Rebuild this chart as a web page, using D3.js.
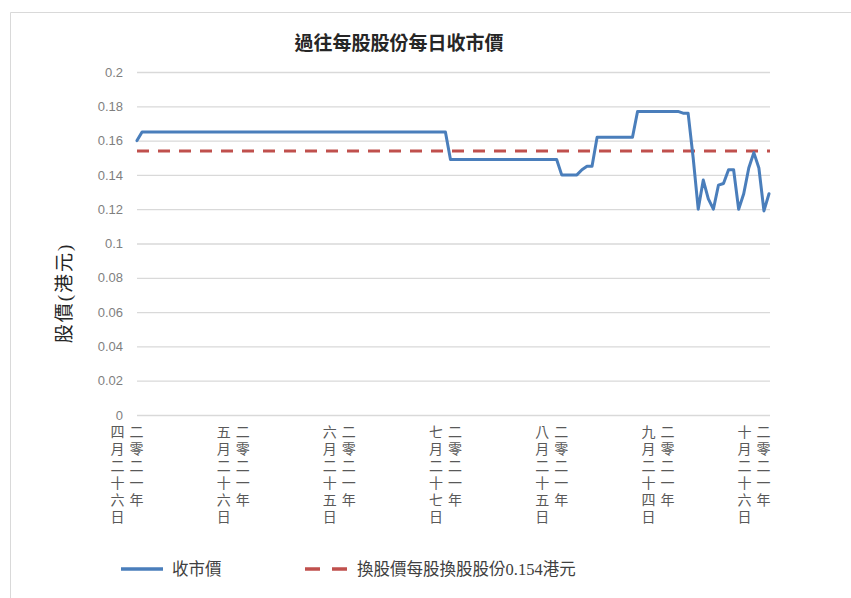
<!DOCTYPE html>
<html>
<head>
<meta charset="utf-8">
<script src="https://cdn.jsdelivr.net/npm/d3@7"></script>
<style>
  html, body { margin: 0; padding: 0; background: #fff; }
  svg { display: block; }
</style>
</head>
<body>
<svg id="chart" width="851" height="598"></svg>
<script>
// Daily closing price per share (HK$), one value per trading day
const closePrices = [
  0.160, 0.165, 0.165, 0.165, 0.165, 0.165, 0.165, 0.165, 0.165, 0.165,
  0.165, 0.165, 0.165, 0.165, 0.165, 0.165, 0.165, 0.165, 0.165, 0.165,
  0.165, 0.165, 0.165, 0.165, 0.165, 0.165, 0.165, 0.165, 0.165, 0.165,
  0.165, 0.165, 0.165, 0.165, 0.165, 0.165, 0.165, 0.165, 0.165, 0.165,
  0.165, 0.165, 0.165, 0.165, 0.165, 0.165, 0.165, 0.165, 0.165, 0.165,
  0.165, 0.165, 0.165, 0.165, 0.165, 0.165, 0.165, 0.165, 0.165, 0.165,
  0.165, 0.165, 0.149, 0.149, 0.149, 0.149, 0.149, 0.149, 0.149, 0.149,
  0.149, 0.149, 0.149, 0.149, 0.149, 0.149, 0.149, 0.149, 0.149, 0.149,
  0.149, 0.149, 0.149, 0.149, 0.140, 0.140, 0.140, 0.140, 0.143, 0.145,
  0.145, 0.162, 0.162, 0.162, 0.162, 0.162, 0.162, 0.162, 0.162, 0.177,
  0.177, 0.177, 0.177, 0.177, 0.177, 0.177, 0.177, 0.177, 0.176, 0.176,
  0.150, 0.120, 0.137, 0.126, 0.120, 0.134, 0.135, 0.143, 0.143, 0.120,
  0.129, 0.144, 0.153, 0.144, 0.119, 0.129
];

// Conversion price per conversion share (HK$)
const conversionPrice = 0.154;

// Trading-day positions that carry a date label, and their labels
const xTickIndex = [0, 21, 42, 63, 84, 105, 124];
const xTickYear = ["二零二一年", "二零二一年", "二零二一年", "二零二一年", "二零二一年", "二零二一年", "二零二一年"];
const xTickDate = ["四月二十六日", "五月二十六日", "六月二十五日", "七月二十七日", "八月二十五日", "九月二十四日", "十月二十六日"];

const yTicks = [0, 0.02, 0.04, 0.06, 0.08, 0.1, 0.12, 0.14, 0.16, 0.18, 0.2];

const chartTitle = "過往每股股份每日收市價";
const yTitle = "股價(港元)";
const seriesNames = ["收市價", "換股價每股換股股份0.154港元"];

const svg = d3.select("#chart");
const cjkSans = "'Noto Sans CJK TC', 'Noto Sans CJK SC', sans-serif";
const serifMix = "'Liberation Serif', 'Noto Sans CJK TC', serif";

// chart frame
svg.append("path")
  .attr("d", "M10.5,598 V12.5 H851")
  .attr("fill", "none")
  .attr("stroke", "#d9d9d9")
  .attr("stroke-width", 1);

const plot = { left: 137, right: 769, top: 72, bottom: 415 };

const x = d3.scaleLinear()
  .domain([0, closePrices.length - 1])
  .range([plot.left, plot.right]);

const y = d3.scaleLinear()
  .domain([0, 0.2])
  .range([plot.bottom, plot.top]);

// y axis with horizontal gridlines
const yAxis = d3.axisLeft(y)
  .tickValues(yTicks)
  .tickFormat(d3.format("~f"))
  .tickSize(-(plot.right + 1 - plot.left))
  .tickPadding(14);

const yG = svg.append("g")
  .attr("transform", `translate(${plot.left},0)`)
  .call(yAxis);
yG.select(".domain").remove();
yG.selectAll(".tick line")
  .attr("stroke", "#d9d9d9")
  .attr("stroke-width", 1.3);
yG.selectAll(".tick text")
  .attr("fill", "#7f7f7f")
  .style("font-family", "'Liberation Sans', Arial, sans-serif")
  .style("font-size", "13px");

// x labels: two vertical columns each (year on the right, date on the left)
const xLab = svg.append("g").attr("class", "x-labels");
xTickIndex.forEach((idx, k) => {
  const cx = x(idx) - 10;
  [[xTickYear[k], cx + 9.5], [xTickDate[k], cx - 9.5]].forEach(([txt, colX]) => {
    xLab.append("text")
      .attr("x", colX)
      .attr("y", 425)
      .style("writing-mode", "vertical-rl")
      .style("text-orientation", "upright")
      .style("letter-spacing", "3px")
      .style("font-family", cjkSans)
      .style("font-size", "14px")
      .attr("fill", "#595959")
      .text(txt);
  });
});

// conversion price reference line
svg.append("line")
  .attr("x1", plot.left)
  .attr("x2", plot.right + 1)
  .attr("y1", y(conversionPrice))
  .attr("y2", y(conversionPrice))
  .attr("stroke", "#c0504d")
  .attr("stroke-width", 3)
  .attr("stroke-dasharray", "12,9");

// closing price line
const line = d3.line()
  .x((d, i) => x(i))
  .y(d => y(d));

svg.append("path")
  .datum(closePrices)
  .attr("d", line)
  .attr("fill", "none")
  .attr("stroke", "#4a7ebb")
  .attr("stroke-width", 3)
  .attr("stroke-linejoin", "round")
  .attr("stroke-linecap", "round");

// title
svg.append("text")
  .attr("x", 399)
  .attr("y", 41)
  .attr("text-anchor", "middle")
  .attr("dominant-baseline", "central")
  .style("font-family", cjkSans)
  .style("font-size", "19px")
  .style("font-weight", "700")
  .attr("fill", "#262626")
  .text(chartTitle);

// y axis title
svg.append("text")
  .attr("transform", "translate(64,293) rotate(-90)")
  .attr("text-anchor", "middle")
  .attr("dominant-baseline", "central")
  .style("font-family", serifMix)
  .style("font-size", "19px")
  .style("letter-spacing", "2px")
  .attr("fill", "#262626")
  .text(yTitle);

// legend
const legY = 569;
const legend = svg.append("g");
legend.append("line")
  .attr("x1", 121).attr("x2", 163)
  .attr("y1", legY).attr("y2", legY)
  .attr("stroke", "#4a7ebb")
  .attr("stroke-width", 3.5);
legend.append("text")
  .attr("x", 172).attr("y", legY)
  .attr("dominant-baseline", "central")
  .style("font-family", serifMix)
  .style("font-size", "16.5px")
  .attr("fill", "#404040")
  .text(seriesNames[0]);
legend.append("line")
  .attr("x1", 305).attr("x2", 347)
  .attr("y1", legY).attr("y2", legY)
  .attr("stroke", "#c0504d")
  .attr("stroke-width", 3.5)
  .attr("stroke-dasharray", "15,12");
legend.append("text")
  .attr("x", 357).attr("y", legY)
  .attr("dominant-baseline", "central")
  .style("font-family", serifMix)
  .style("font-size", "16.5px")
  .attr("fill", "#404040")
  .text(seriesNames[1]);
</script>
</body>
</html>
